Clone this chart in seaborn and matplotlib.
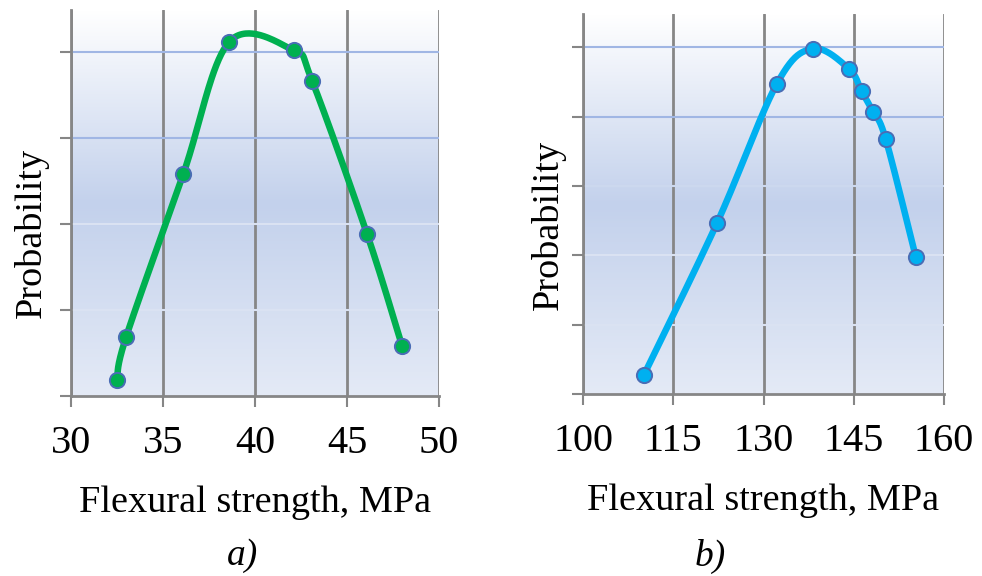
import numpy as np
import matplotlib
matplotlib.use("Agg")
import matplotlib.pyplot as plt
import seaborn as sns
from matplotlib.colors import LinearSegmentedColormap

# a) data
strength_a = [32.5, 33.0, 36.1, 38.6, 42.1, 43.1, 46.1, 48.0]
prob_a = [0.19, 0.69, 2.58, 4.12, 4.02, 3.67, 1.88, 0.58]
xticks_a = [30, 35, 40, 45, 50]
yticks_a = [0, 1, 2, 3, 4]

# b) data
strength_b = [110.1, 122.3, 132.2, 138.2, 144.2, 146.3, 148.2, 150.3, 155.3]
prob_b = [0.27, 2.47, 4.47, 4.98, 4.69, 4.37, 4.07, 3.68, 1.98]
xticks_b = [100, 115, 130, 145, 160]
yticks_b = [0, 1, 2, 3, 4, 5]

sns.set_theme(style="white")
plt.rcParams['font.family'] = ['Liberation Serif', 'DejaVu Serif']
plt.rcParams['text.color'] = 'black'
plt.rcParams['axes.labelcolor'] = 'black'
plt.rcParams['xtick.labelcolor'] = 'black'

GRID_GRAY = "#868686"
BG = LinearSegmentedColormap.from_list(
    "bg", [(0.0, "#e4eaf6"), (0.5, "#c3d1ec"), (1.0, "#ffffff")])


def smooth_curve(ax, x, y, n=40):
    """Excel-like smoothed line: Catmull-Rom through the points in display space."""
    pts = ax.transData.transform(np.column_stack([x, y]))
    p = np.vstack([pts[0], pts, pts[-1]])
    t = np.linspace(0, 1, n)[:, None]
    segs = []
    for i in range(1, len(p) - 2):
        p0, p1, p2, p3 = p[i - 1], p[i], p[i + 1], p[i + 2]
        c1 = p1 + (p2 - p0) / 6
        c2 = p2 - (p3 - p1) / 6
        segs.append((1 - t) ** 3 * p1 + 3 * (1 - t) ** 2 * t * c1
                    + 3 * (1 - t) * t ** 2 * c2 + t ** 3 * p2)
    curve = ax.transData.inverted().transform(np.vstack(segs))
    return curve[:, 0], curve[:, 1]


def draw_panel(ax, x, y, xticks, yticks, ymax, color, hline_colors):
    ax.imshow(np.linspace(0, 1, 256).reshape(-1, 1), cmap=BG, aspect="auto",
              extent=[0, 1, 0, 1], transform=ax.transAxes, origin="lower", zorder=0)
    ax.set_xlim(xticks[0], xticks[-1])
    ax.set_ylim(0, ymax)
    for xv in xticks:
        ax.axvline(xv, color=GRID_GRAY, lw=2, zorder=1)
    for yv, c in zip(yticks[1:], hline_colors):
        ax.axhline(yv, color=c, lw=1.5, zorder=1)
    for side in ["top", "right"]:
        ax.spines[side].set_visible(False)
    for side in ["left", "bottom"]:
        ax.spines[side].set_color(GRID_GRAY)
        ax.spines[side].set_linewidth(2)
        ax.spines[side].set_zorder(2)
    ax.set_xticks(xticks)
    ax.set_yticks(yticks)
    ax.set_yticklabels([])
    ax.tick_params(axis="both", direction="out", length=8, width=1.5,
                   color=GRID_GRAY, left=True, bottom=True)
    ax.tick_params(axis="x", labelsize=29, pad=13, labelcolor="black")

    sx, sy = smooth_curve(ax, x, y)
    sns.lineplot(x=sx, y=sy, sort=False, estimator=None, color=color, lw=4.7,
                 ax=ax, zorder=3)
    sns.scatterplot(x=x, y=y, color=color, s=120, edgecolor="#4a6db5",
                    linewidth=1.4, ax=ax, zorder=4)
    ax.set_xlabel("Flexural strength, MPa", fontsize=27.5, labelpad=17,
                  color="black")
    ax.set_ylabel("")


fig = plt.figure(figsize=(9.82, 5.76), dpi=100)
ax_a = fig.add_axes([0.0723, 0.3125, 0.3747, 0.670])
ax_b = fig.add_axes([0.5937, 0.316, 0.3676, 0.6597])

light = "#dae2f2"
blue = "#a0b6e4"
draw_panel(ax_a, strength_a, prob_a, xticks_a, yticks_a, 4.49, "#00b050",
           [light, light, blue, blue])
draw_panel(ax_b, strength_b, prob_b, xticks_b, yticks_b, 5.48, "#00b0f0",
           [light, light, "#ccd8ee", blue, blue])

fig.text(31 / 982, 1 - 233 / 576, "Probability", rotation=90, ha="center",
         va="center", fontsize=27.5, color="black")
fig.text(548 / 982, 1 - 225 / 576, "Probability", rotation=90, ha="center",
         va="center", fontsize=27.5, color="black")
fig.text(242 / 982, 1 - 556 / 576, "a)", style="italic", ha="center",
         va="center", fontsize=27, color="black")
fig.text(710 / 982, 1 - 556 / 576, "b)", style="italic", ha="center",
         va="center", fontsize=27, color="black")

fig.savefig("out.png", dpi=100)
